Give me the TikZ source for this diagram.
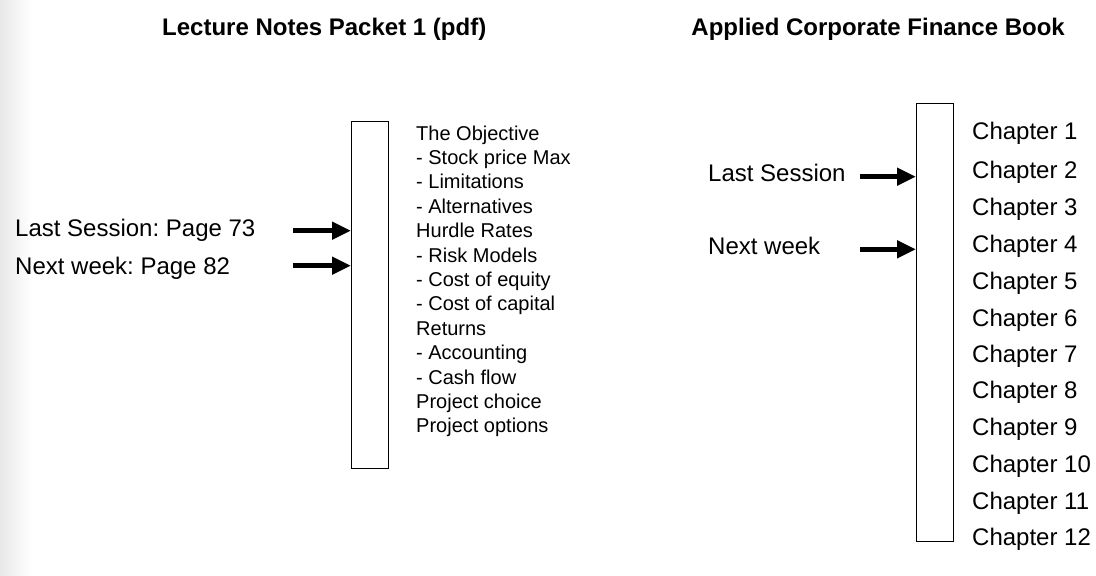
\documentclass[tikz,border=0pt]{standalone}
\usepackage{fontspec}
\setmainfont{Liberation Sans}
\usetikzlibrary{arrows.meta}
\frenchspacing
\begin{document}
\begin{tikzpicture}[x=1pt,y=-1pt,
  bigtxt/.style={inner sep=0pt,font=\fontsize{24}{28}\selectfont},
  smalltxt/.style={inner sep=0pt,font=\fontsize{20}{24}\selectfont},
  titletxt/.style={inner sep=0pt,font=\fontsize{24}{28}\selectfont\bfseries},
  bar/.style={draw,line width=1.4pt,inner sep=0pt},
  pointer/.style={line width=5pt,-{Triangle[length=19pt,width=17pt]}}]
\useasboundingbox (0,0) rectangle (1096,576);
\shade[left color=black!9,right color=white] (0,0) rectangle (32,576);
% titles
\node[titletxt,anchor=base west] (t1) at (162,35) {Lecture Notes Packet 1 (pdf)};
\node[titletxt,anchor=base east] (t2) at (1065,35) {Applied Corporate Finance Book};
% left bar
\node[bar,minimum width=37pt,minimum height=347pt,anchor=north west] (lbar) at (351,121) {};
\node[bigtxt,anchor=base west] (lls) at (15,236) {Last Session: Page 73};
\node[bigtxt,anchor=base west] (lnw) at (15,274) {Next week: Page 82};
\coordinate (la1) at (293,230.7);
\coordinate (la2) at (293,265.7);
\draw[pointer] (la1) -- (la1 -| lbar.west);
\draw[pointer] (la2) -- (la2 -| lbar.west);
\foreach \t [count=\i from 0] in {The Objective,- Stock price Max,- Limitations,- Alternatives,Hurdle Rates,- Risk Models,- Cost of equity,- Cost of capital,Returns,- Accounting,- Cash flow,Project choice,Project options}{
  \node[smalltxt,anchor=base west] (li\i) at (416,{140+24.4*\i}) {\t};
}
% right bar
\node[bar,minimum width=37pt,minimum height=438pt,anchor=north west] (rbar) at (916,103) {};
\node[bigtxt,anchor=base west] (rls) at (708,181) {Last Session};
\node[bigtxt,anchor=base west] (rnw) at (708,254) {Next week};
\coordinate (ra1) at (860,176.7);
\coordinate (ra2) at (860,249.3);
\draw[pointer] (ra1) -- (ra1 -| rbar.west);
\draw[pointer] (ra2) -- (ra2 -| rbar.west);
\foreach \y [count=\i] in {131,170,207,244,281,318,354,390,427,464,501,537}{
  \node[bigtxt,anchor=base west] (ch\i) at (972,{\y+8}) {Chapter \i};
}
\end{tikzpicture}
\end{document}
